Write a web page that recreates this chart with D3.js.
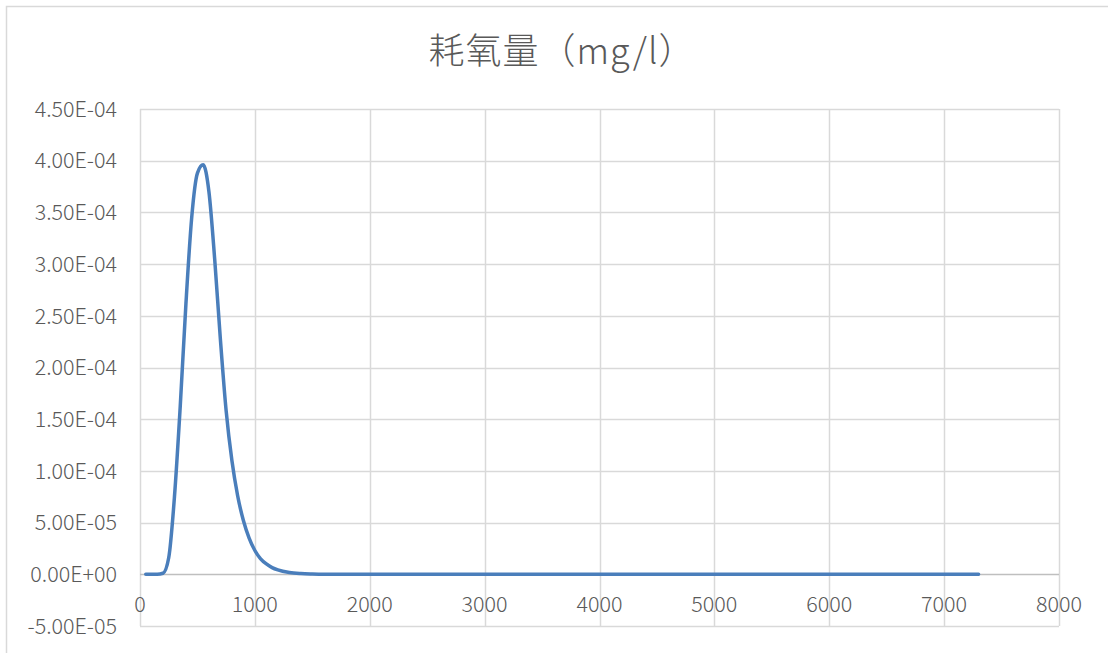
<!DOCTYPE html>
<html>
<head>
<meta charset="utf-8">
<script src="https://cdn.jsdelivr.net/npm/d3@7"></script>
<style>
  html, body { margin: 0; padding: 0; background: #fff; }
  svg { display: block; }
  .lbl { font-family: "Noto Sans CJK SC", "Noto Sans", sans-serif; font-weight: 300; fill: #595959; }
</style>
</head>
<body>
<svg id="chart" width="1108" height="653"></svg>
<script>
// Oxygen consumption over time
const xValues = [50, 100, 150, 200, 250, 300, 350, 400, 450, 500, 550, 600, 650, 700, 750, 800,
                 850, 900, 950, 1000, 1050, 1100, 1150, 1200, 1300, 1400, 1500, 1600, 2000,
                 3000, 4000, 5000, 6000, 7000, 7300];
const yValues = [0, 0, 0, 1.0e-6, 1.6e-5, 7.5e-5, 1.62e-4, 2.62e-4, 3.45e-4, 3.88e-4, 3.96e-4,
                 3.70e-4, 3.05e-4, 2.27e-4, 1.58e-4, 1.10e-4, 7.6e-5, 5.2e-5, 3.5e-5, 2.3e-5,
                 1.5e-5, 1.0e-5, 6.5e-6, 4.2e-6, 1.7e-6, 7e-7, 3e-7, 1e-7, 0,
                 0, 0, 0, 0, 0, 0];
const xTicks = [0, 1000, 2000, 3000, 4000, 5000, 6000, 7000, 8000];
const yTicks = [-5e-5, 0, 5e-5, 1e-4, 1.5e-4, 2e-4, 2.5e-4, 3e-4, 3.5e-4, 4e-4, 4.5e-4];
const yTickLabels = ["-5.00E-05", "0.00E+00", "5.00E-05", "1.00E-04", "1.50E-04", "2.00E-04",
                     "2.50E-04", "3.00E-04", "3.50E-04", "4.00E-04", "4.50E-04"];
const titleText = "耗氧量（mg/l）";

const svg = d3.select("#chart");

// outer chart frame
svg.append("rect")
  .attr("x", 6.5).attr("y", 6.5)
  .attr("width", 1200).attr("height", 1000)
  .attr("fill", "#fff").attr("stroke", "#d9d9d9").attr("stroke-width", 1.5);

const x = d3.scaleLinear().domain([0, 8000]).range([140, 1059]);
const y = d3.scaleLinear().domain([-5e-5, 4.5e-4]).range([626, 109]);

// vertical gridlines
svg.append("g").selectAll("line").data(xTicks).join("line")
  .attr("x1", d => Math.round(x(d)) + 0.5).attr("x2", d => Math.round(x(d)) + 0.5)
  .attr("y1", y(4.5e-4)).attr("y2", y(-5e-5))
  .attr("stroke", "#d9d9d9").attr("stroke-width", 1.5);

// horizontal gridlines
svg.append("g").selectAll("line").data(yTicks).join("line")
  .attr("x1", x(0)).attr("x2", x(8000))
  .attr("y1", d => Math.round(y(d)) + 0.5).attr("y2", d => Math.round(y(d)) + 0.5)
  .attr("stroke", d => d === 0 ? "#bfbfbf" : "#d9d9d9").attr("stroke-width", 1.5);

// y tick labels
svg.append("g").selectAll("text").data(yTicks).join("text")
  .attr("class", "lbl")
  .attr("x", 117).attr("y", d => y(d))
  .attr("dy", "0.36em")
  .attr("text-anchor", "end")
  .attr("font-size", 21.5)
  .text((d, i) => yTickLabels[i]);

// x tick labels, placed beside the zero line
svg.append("g").selectAll("text").data(xTicks).join("text")
  .attr("class", "lbl")
  .attr("x", d => x(d)).attr("y", y(0) + 30)
  .attr("dy", "0.36em")
  .attr("text-anchor", "middle")
  .attr("font-size", 21.5)
  .text(d => d);

// data line
const line = d3.line()
  .x((d, i) => x(xValues[i]))
  .y(d => y(d))
  .curve(d3.curveMonotoneX);

svg.append("path")
  .datum(yValues)
  .attr("d", line)
  .attr("fill", "none")
  .attr("stroke", "#4a7ebb")
  .attr("stroke-width", 3.5)
  .attr("stroke-linecap", "round")
  .attr("stroke-linejoin", "round");

// title
svg.append("text")
  .attr("class", "lbl")
  .attr("x", 562).attr("y", 64)
  .attr("text-anchor", "middle")
  .attr("font-size", 36)
  .attr("letter-spacing", 1)
  .text(titleText);
</script>
</body>
</html>
